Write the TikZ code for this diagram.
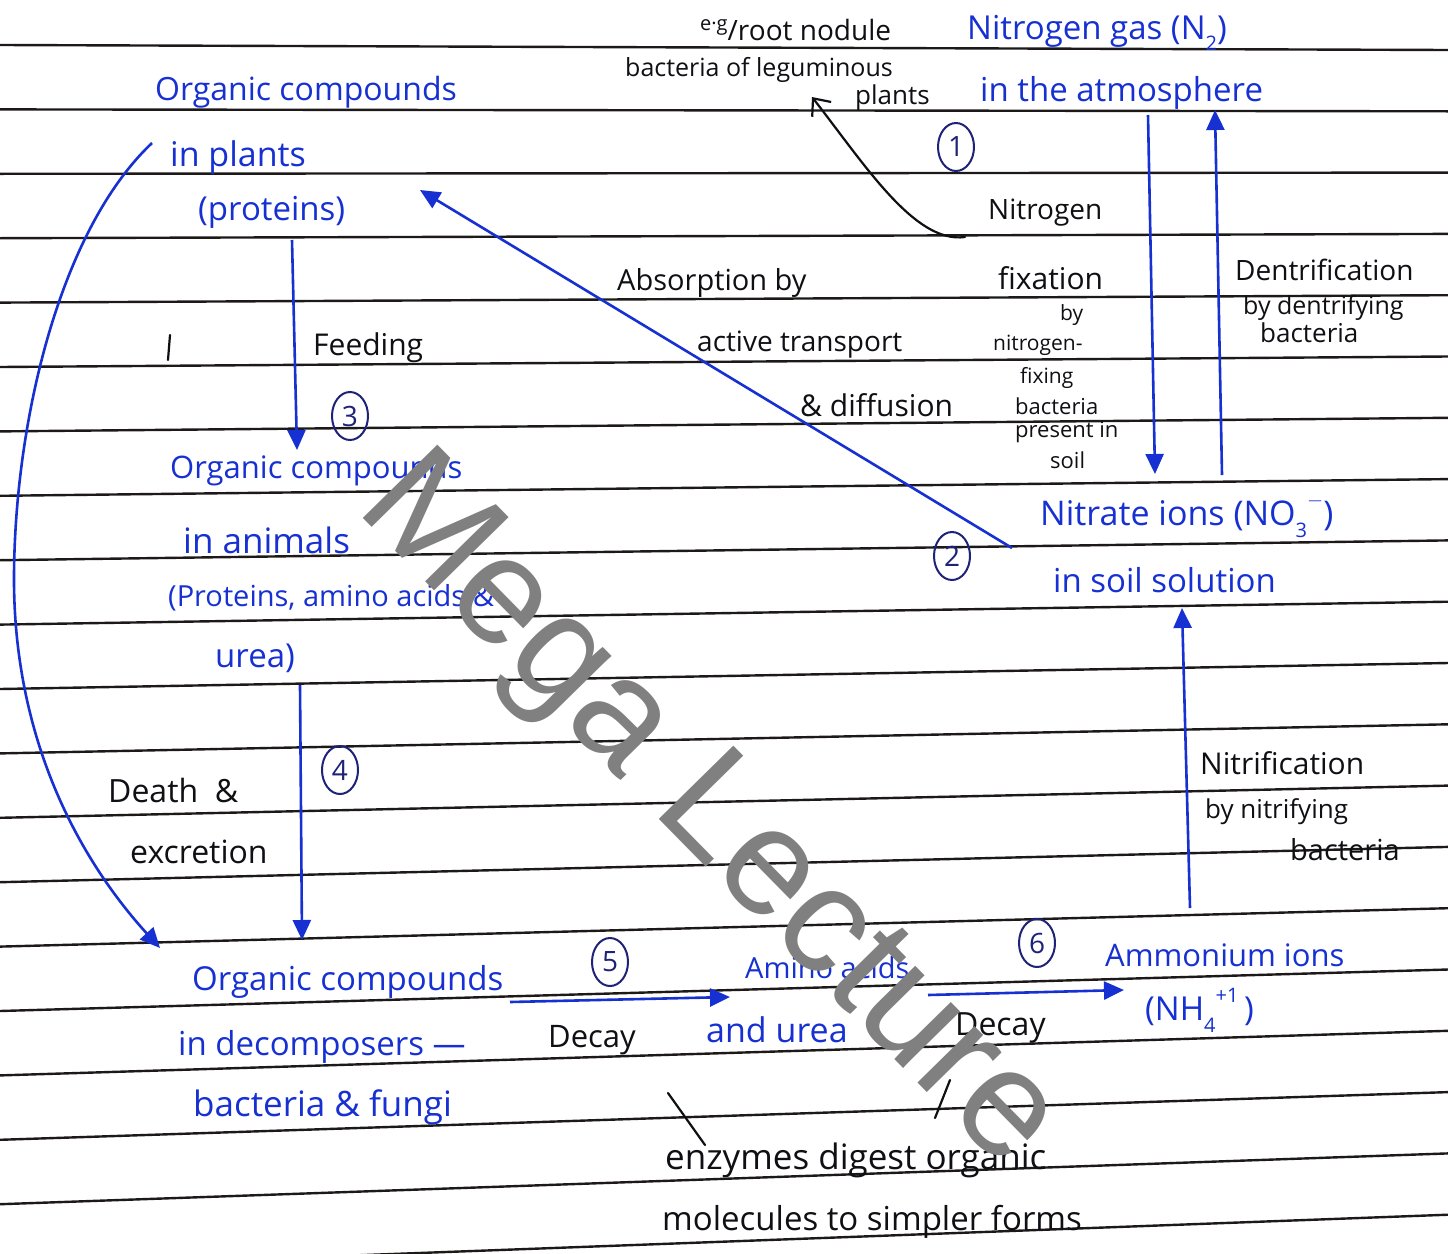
\documentclass[tikz,border=0pt]{standalone}
\usepackage{fontspec}
\setmainfont{Open Sans}
\newfontfamily\wmfont{Liberation Sans}
\usetikzlibrary{arrows.meta,shapes.geometric}
\definecolor{inkblue}{RGB}{22,48,210}
\definecolor{inkblack}{RGB}{15,15,20}
\definecolor{rulecol}{RGB}{30,25,25}
\definecolor{numcol}{RGB}{30,35,120}
\definecolor{wmcol}{RGB}{128,128,128}
\newcommand{\fs}[1]{\fontsize{#1}{#1}\selectfont}
\newcommand{\lo}[1]{\raisebox{-0.35em}{\fs{20}#1}}
\newcommand{\hi}[1]{\raisebox{0.55em}{\fs{20}#1}}
\begin{document}
\begin{tikzpicture}[x=1pt,y=-1pt,
  bl/.style={text=inkblue,anchor=west,inner sep=0pt},
  bk/.style={text=inkblack,anchor=west,inner sep=0pt},
  num/.style={draw=numcol,text=numcol,ellipse,line width=2pt,minimum width=36pt,minimum height=48pt,inner sep=0pt,font=\fs{28}},
  arr/.style={draw=inkblue,line width=2.6pt,-{Triangle[length=20pt,width=18pt]}},
  pen/.style={draw=inkblack,line width=2.2pt,line cap=round},
  ruled/.style={draw=rulecol,line width=2.4pt}]
\useasboundingbox (0,0) rectangle (1448,1253);
\fill[white] (0,0) rectangle (1448,1253);
\foreach \i in {0,...,19} \draw[ruled] (0,{45+64.4*\i}) -- (1448,{50+61.3*\i});

% ---- blue labels
\node[bl,font=\fs{32}] (plA) at (155,92) {Organic compounds};
\node[bl,font=\fs{34}] (plB) at (170,158) {in plants};
\node[bl,font=\fs{33}] (plC) at (198,212) {(proteins)};
\node[bl,font=\fs{33}] (ngA) at (967,33) {Nitrogen gas (N\lo{2})};
\node[bl,font=\fs{33}] (ngB) at (980,93) {in the atmosphere};
\node[bl,font=\fs{31}] (anA) at (170,470) {Organic compounds};
\node[bl,font=\fs{35}] (anB) at (183,540) {in animals};
\node[bl,font=\fs{29}] (anC) at (168,598) {(Proteins, amino acids \&};
\node[bl,font=\fs{33}] (anD) at (215,658) {urea)};
\node[bl,font=\fs{34}] (niA) at (1040,516) {Nitrate ions (NO\lo{3}\hi{$-$})};
\node[bl,font=\fs{33}] (niB) at (1053,580) {in soil solution};
\node[bl,font=\fs{33}] (deA) at (192,982) {Organic compounds};
\node[bl,font=\fs{33}] (deB) at (178,1047) {in decomposers ---};
\node[bl,font=\fs{35}] (deC) at (193,1107) {bacteria \& fungi};
\node[bl,font=\fs{29}] (amA) at (745,968) {Amino acids};
\node[bl,font=\fs{34}] (amB) at (706,1030) {and urea};
\node[bl,font=\fs{31}] (amoA) at (1105,955) {Ammonium ions};
\node[bl,font=\fs{33}] (amoB) at (1145,1010) {(NH\lo{4}\hi{+1}\,)};

% ---- black labels
\node[bk,font=\fs{28}] (egA) at (700,30) {\raisebox{0.35em}{\fs{20}e·g}/root nodule};
\node[bk,font=\fs{25}] (egB) at (625,70) {bacteria of leguminous};
\node[bk,font=\fs{26}] (egC) at (855,98) {plants};
\node[bk,font=\fs{28}] (nfA) at (988,213) {Nitrogen};
\node[bk,font=\fs{30}] (nfB) at (998,278) {fixation};
\node[bk,font=\fs{21}] (nfC) at (1060,315) {by};
\node[bk,font=\fs{21}] (nfD) at (993,345) {nitrogen-};
\node[bk,font=\fs{21}] (nfE) at (1020,378) {fixing};
\node[bk,font=\fs{22}] (nfF) at (1015,406) {bacteria};
\node[bk,font=\fs{22}] (nfG) at (1015,432) {present in};
\node[bk,font=\fs{22}] (nfH) at (1050,460) {soil};
\node[bk,font=\fs{29}] (abA) at (617,283) {Absorption by};
\node[bk,font=\fs{28}] (abB) at (697,345) {active transport};
\node[bk,font=\fs{30}] (abC) at (800,405) {\& diffusion};
\node[bk,font=\fs{28}] (dnA) at (1235,270) {Dentrification};
\node[bk,font=\fs{25}] (dnB) at (1243,308) {by dentrifying};
\node[bk,font=\fs{26}] (dnC) at (1260,333) {bacteria};
\node[bk,font=\fs{30}] (fdA) at (313,348) {Feeding};
\node[bk,font=\fs{32}] (dtA) at (108,790) {Death\ \ \&};
\node[bk,font=\fs{32}] (dtB) at (130,852) {excretion};
\node[bk,font=\fs{30}] (ntA) at (1200,763) {Nitrification};
\node[bk,font=\fs{26}] (ntB) at (1205,812) {by nitrifying};
\node[bk,font=\fs{29}] (ntC) at (1290,850) {bacteria};
\node[bk,font=\fs{31}] (dcA) at (548,1040) {Decay};
\node[bk,font=\fs{32}] (dcB) at (955,1028) {Decay};
\node[bk,font=\fs{35}] (enA) at (665,1160) {enzymes digest organic};
\node[bk,font=\fs{33}] (enB) at (662,1222) {molecules to simpler forms};

% ---- numbered circles
\node[num] (n1) at (956,147) {1};
\node[num] (n2) at (952,556) {2};
\node[num] (n3) at (350,416) {3};
\node[num] (n4) at (340,770) {4};
\node[num] (n5) at (610,962) {5};
\node[num] (n6) at (1037,943) {6};

% ---- connector end points
\coordinate (cS) at (152,143);
\coordinate (cE) at (160,948);
\coordinate (fS) at (292,240);
\coordinate (fE) at (297,450);
\coordinate (dS) at (300,685);
\coordinate (dE) at (302,940);
\coordinate (aS) at (1012,548);
\coordinate (aE) at (420,190);
\coordinate (xS) at (1148,115);
\coordinate (xE) at (1155,474);
\coordinate (yS) at (1222,475);
\coordinate (yE) at (1215,110);
\coordinate (zS) at (1190,908);
\coordinate (zE) at (1182,608);
\coordinate (pS) at (510,1002);
\coordinate (pE) at (730,997);
\coordinate (qS) at (928,995);
\coordinate (qE) at (1124,990);
\coordinate (kS) at (965,237);
\coordinate (kE) at (812,97);

% ---- blue arrows
\draw[arr] (cS) .. controls (60,230) and (15,420) .. (14,575) .. controls (13,740) and (80,860) .. (cE);
\draw[arr] (fS) -- (fE);
\draw[arr] (dS) -- (dE);
\draw[arr] (aS) -- (aE);
\draw[arr] (xS) -- (xE);
\draw[arr] (yS) -- (yE);
\draw[arr] (zS) -- (zE);
\draw[arr] (pS) -- (pE);
\draw[arr] (qS) -- (qE);

% ---- black pen strokes
\draw[pen,-{Straight Barb[length=14pt,width=24pt]}] (kS) .. controls (915,244) and (865,165) .. (kE);
\draw[pen] (170,335) -- (168,360);
\draw[pen] (668,1093) -- (705,1145);
\draw[pen] (950,1080) -- (935,1118);

% ---- watermark
\node[text=wmcol,rotate=-45.5,font=\wmfont\fs{152},inner sep=0pt] (wmk) at (706,815) {Mega Lecture};
\end{tikzpicture}
\end{document}
